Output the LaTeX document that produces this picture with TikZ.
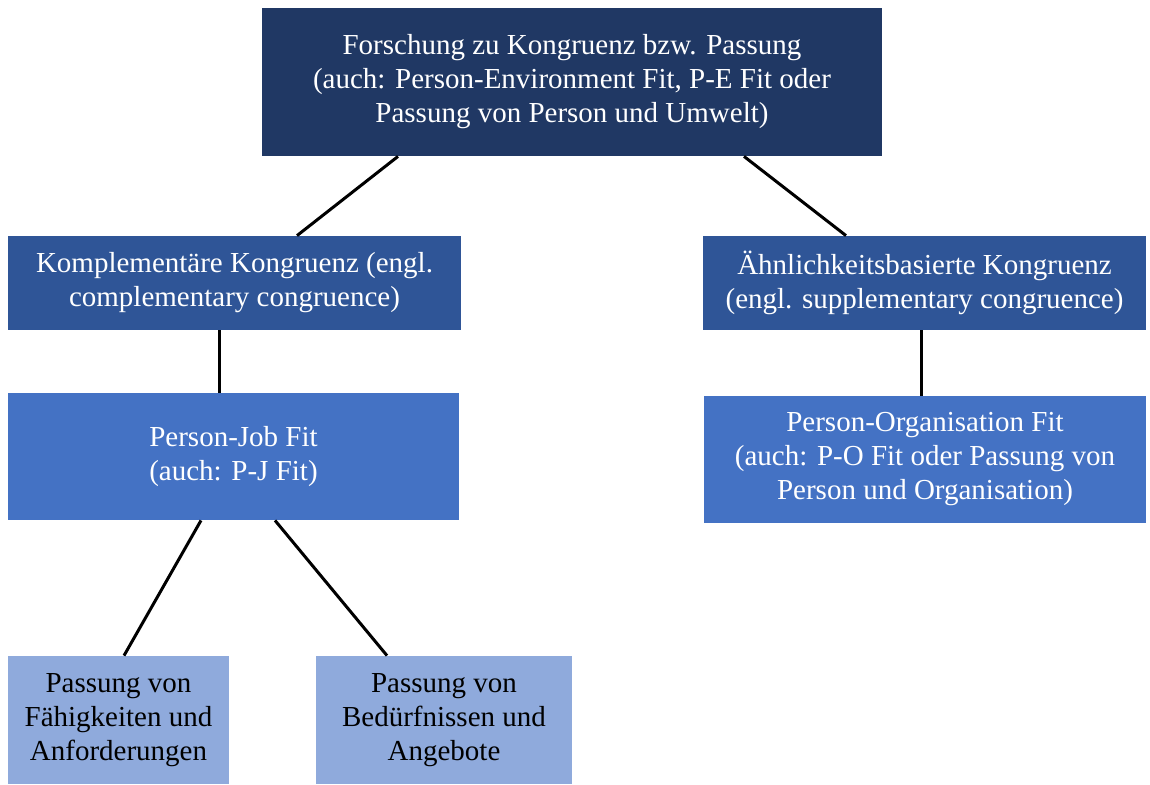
\documentclass[tikz,border=0pt]{standalone}
\usepackage{fontspec}
\setmainfont{Liberation Serif}
\usepackage{tikz}
\usetikzlibrary{positioning, calc}

\definecolor{navy}{HTML}{203864}
\definecolor{midblue}{HTML}{2F5597}
\definecolor{fitblue}{HTML}{4472C4}
\definecolor{paleblue}{HTML}{8FAADC}

\tikzset{
    box/.style={
        draw=none,
        align=center,
        inner sep=0pt,
        font=\fontsize{14.5}{17}\selectfont
    },
    lvlone/.style={box, fill=navy, text=white},
    lvltwo/.style={box, fill=midblue, text=white},
    lvlthree/.style={box, fill=fitblue, text=white},
    lvlfour/.style={box, fill=paleblue, text=black},
    link/.style={line width=1.5pt, black}
}

\begin{document}
\begin{tikzpicture}[x=0.5pt, y=-0.5pt]
    \useasboundingbox (0,0) rectangle (1150,784);

    % top box
    \node[lvlone, minimum width=310pt, minimum height=74pt] (forschung) at (572,82)
        {Forschung zu Kongruenz bzw. Passung\\
         (auch: Person-Environment Fit, P-E Fit oder\\
         Passung von Person und Umwelt)};

    % second row
    \node[lvltwo, minimum width=226.5pt, minimum height=47pt] (kompl) at (234.5,283)
        {Komplementäre Kongruenz (engl.\\ complementary congruence)};
    \node[lvltwo, minimum width=221.5pt, minimum height=47pt] (aehnl) at (924.5,283)
        {Ähnlichkeitsbasierte Kongruenz\\ (engl. supplementary congruence)};

    % third row
    \node[lvlthree, minimum width=225.5pt, minimum height=63.5pt] (pjfit) at (233.5,456.5)
        {Person-Job Fit\\ (auch: P-J Fit)};
    \node[lvlthree, minimum width=221pt, minimum height=63.5pt] (pofit) at (925,459.5)
        {Person-Organisation Fit\\ (auch: P-O Fit oder Passung von\\ Person und Organisation)};

    % bottom row
    \node[lvlfour, minimum width=110.5pt, minimum height=64pt] (faehig) at (118.5,720)
        {Passung von\\ Fähigkeiten und\\ Anforderungen};
    \node[lvlfour, minimum width=128pt, minimum height=64pt] (beduerf) at (444,720)
        {Passung von\\ Bedürfnissen und\\ Angebote};

    % connectors
    \draw[link] ([xshift=-87pt]forschung.south) -- ([xshift=31.25pt]kompl.north);
    \draw[link] ([xshift=86pt]forschung.south) -- ([xshift=-39.25pt]aehnl.north);
    \draw[link] ([xshift=-7.5pt]kompl.south) -- ([xshift=-7.5pt]pjfit.north -| kompl.south);
    \draw[link] ([xshift=-1.5pt]aehnl.south) -- ([xshift=-1.5pt]pofit.north -| aehnl.south);
    \draw[link] ([xshift=-16.25pt]pjfit.south) -- ([xshift=2.75pt]faehig.north);
    \draw[link] ([xshift=20.75pt]pjfit.south) -- ([xshift=-28.5pt]beduerf.north);

\end{tikzpicture}
\end{document}
